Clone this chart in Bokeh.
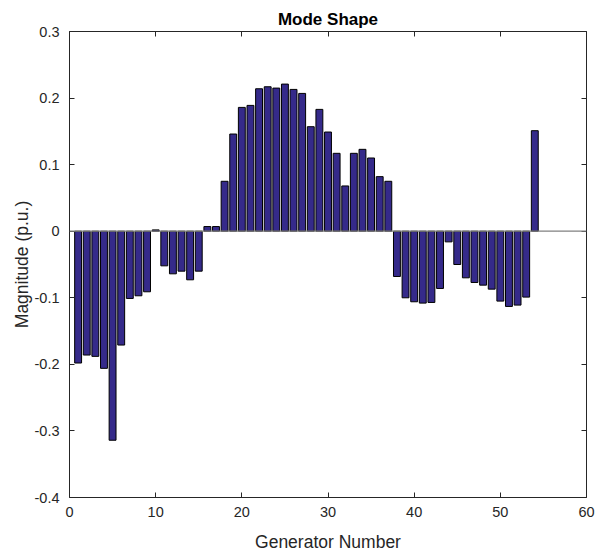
from bokeh.plotting import figure
from bokeh.models import LinearAxis, Range1d, FixedTicker, Span
from bokeh.embed import file_html
from bokeh.resources import INLINE

generators = list(range(1, 55))
magnitude = [
    -0.198, -0.186, -0.188, -0.206, -0.314, -0.171, -0.101, -0.097, -0.091, 0.002,
    -0.052, -0.064, -0.060, -0.073, -0.060, 0.007, 0.007, 0.075, 0.146, 0.186,
    0.189, 0.214, 0.217, 0.215, 0.221, 0.213, 0.207, 0.157, 0.183, 0.149,
    0.117, 0.068, 0.117, 0.123, 0.110, 0.082, 0.075, -0.068, -0.100, -0.106,
    -0.108, -0.107, -0.086, -0.016, -0.050, -0.070, -0.077, -0.081, -0.087, -0.105,
    -0.113, -0.111, -0.099, 0.151,
]
x_ticks = [0, 10, 20, 30, 40, 50, 60]
y_ticks = [-0.4, -0.3, -0.2, -0.1, 0.0, 0.1, 0.2, 0.3]
y_tick_labels = ["-0.4", "-0.3", "-0.2", "-0.1", "0", "0.1", "0.2", "0.3"]

FONT = "Liberation Sans"
TICK_COLOR = "#262626"

p = figure(width=600, height=555, output_backend="svg", toolbar_location=None,
           x_range=Range1d(0, 60), y_range=Range1d(-0.4, 0.3),
           title="Mode Shape", min_border_left=69, min_border_right=14,
           min_border_bottom=58, min_border_top=31)
p.title.align = "center"
p.title.text_font = FONT
p.title.text_font_size = "17px"
p.title.text_font_style = "bold"
p.title.text_color = "black"
p.title.offset = 0
p.title.standoff = 5

p.grid.visible = False
p.outline_line_color = "#262626"
p.outline_line_width = 1
p.background_fill_color = "white"
p.border_fill_color = "white"

# baseline
p.add_layout(Span(location=0, dimension="width", line_color="#808080", line_width=1.2))

p.vbar(x=generators, top=magnitude, bottom=0, width=0.8,
       fill_color="#352a8a", line_color="black", line_width=1)

for ax in (p.xaxis[0], p.yaxis[0]):
    ax.major_tick_in = 5
    ax.major_tick_out = 0
    ax.minor_tick_in = 0
    ax.minor_tick_out = 0
    ax.axis_line_color = None
    ax.major_tick_line_color = TICK_COLOR
    ax.major_label_text_font = FONT
    ax.major_label_text_font_size = "14.5px"
    ax.major_label_text_color = TICK_COLOR
    ax.axis_label_text_font = FONT
    ax.axis_label_text_font_size = "17.5px"
    ax.axis_label_text_font_style = "normal"
    ax.axis_label_text_color = TICK_COLOR

p.xaxis[0].ticker = FixedTicker(ticks=x_ticks)
p.yaxis[0].ticker = FixedTicker(ticks=y_ticks)
p.yaxis[0].major_label_overrides = {t: l for t, l in zip(y_ticks, y_tick_labels)}
p.xaxis[0].axis_label = "Generator Number"
p.yaxis[0].axis_label = "Magnitude (p.u.)"
p.xaxis[0].major_label_standoff = 9
p.yaxis[0].major_label_standoff = 10
p.xaxis[0].axis_label_standoff = 12
p.yaxis[0].axis_label_standoff = 0

top_ax = LinearAxis(ticker=FixedTicker(ticks=x_ticks),
                    major_label_overrides={t: "" for t in x_ticks},
                    major_tick_in=5, major_tick_out=0, minor_tick_in=0, minor_tick_out=0,
                    axis_line_color=None, major_tick_line_color=TICK_COLOR,
                    major_label_standoff=0)
right_ax = LinearAxis(ticker=FixedTicker(ticks=y_ticks),
                      major_label_overrides={t: "" for t in y_ticks},
                      major_tick_in=5, major_tick_out=0, minor_tick_in=0, minor_tick_out=0,
                      axis_line_color=None, major_tick_line_color=TICK_COLOR,
                      major_label_standoff=0)
p.add_layout(top_ax, "above")
p.add_layout(right_ax, "right")

open("out.html", "w").write(file_html(p, INLINE))
